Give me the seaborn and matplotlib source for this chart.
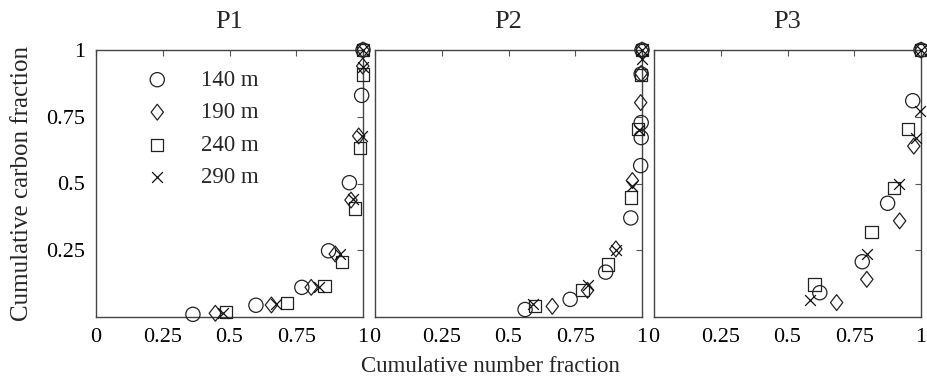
import numpy as np
import pandas as pd
import matplotlib
matplotlib.use("Agg")
import matplotlib.pyplot as plt
from matplotlib.path import Path
import seaborn as sns

panels = ["P1", "P2", "P3"]
depths = ["140 m", "190 m", "240 m", "290 m"]

# P1
p1_140_x = [0.363, 0.599, 0.771, 0.871, 0.949, 0.995, 1.0]
p1_140_y = [0.010, 0.044, 0.111, 0.248, 0.503, 0.830, 1.0]
p1_190_x = [0.447, 0.657, 0.806, 0.896, 0.955, 0.984, 0.999, 1.0]
p1_190_y = [0.014, 0.045, 0.111, 0.236, 0.438, 0.678, 0.940, 1.0]
p1_240_x = [0.486, 0.715, 0.856, 0.920, 0.969, 0.990, 0.999, 1.0]
p1_240_y = [0.020, 0.052, 0.117, 0.207, 0.406, 0.634, 0.908, 1.0]
p1_290_x = [0.475, 0.673, 0.836, 0.915, 0.961, 0.995, 1.0, 1.0]
p1_290_y = [0.016, 0.048, 0.114, 0.235, 0.441, 0.678, 0.935, 1.0]

# P2
p2_140_x = [0.562, 0.731, 0.864, 0.958, 0.995, 0.997, 0.997, 0.997, 1.0]
p2_140_y = [0.028, 0.066, 0.168, 0.371, 0.567, 0.672, 0.728, 0.910, 1.0]
p2_190_x = [0.664, 0.796, 0.902, 0.964, 0.995, 0.997, 1.0]
p2_190_y = [0.040, 0.100, 0.255, 0.511, 0.803, 0.912, 1.0]
p2_240_x = [0.598, 0.777, 0.872, 0.960, 0.986, 0.997, 1.0]
p2_240_y = [0.041, 0.100, 0.197, 0.448, 0.704, 0.905, 1.0]
p2_290_x = [0.591, 0.796, 0.904, 0.964, 0.990, 1.0, 1.0]
p2_290_y = [0.047, 0.118, 0.252, 0.490, 0.700, 0.965, 1.0]

# P3
p3_140_x = [0.621, 0.780, 0.875, 0.969, 1.0]
p3_140_y = [0.091, 0.207, 0.426, 0.810, 1.0]
p3_190_x = [0.684, 0.797, 0.920, 0.973, 1.0]
p3_190_y = [0.054, 0.141, 0.360, 0.640, 1.0]
p3_240_x = [0.601, 0.815, 0.899, 0.950, 1.0]
p3_240_y = [0.122, 0.319, 0.484, 0.703, 1.0]
p3_290_x = [0.584, 0.796, 0.919, 0.981, 0.996, 1.0]
p3_290_y = [0.062, 0.235, 0.497, 0.671, 0.771, 1.0]

x_ticks = [0, 0.25, 0.5, 0.75, 1]
x_tick_labels = ["0", "0.25", "0.5", "0.75", "1"]
y_ticks = [0.25, 0.5, 0.75, 1]
y_tick_labels = ["0.25", "0.5", "0.75", "1"]

data = {
    "P1": [(p1_140_x, p1_140_y), (p1_190_x, p1_190_y), (p1_240_x, p1_240_y), (p1_290_x, p1_290_y)],
    "P2": [(p2_140_x, p2_140_y), (p2_190_x, p2_190_y), (p2_240_x, p2_240_y), (p2_290_x, p2_290_y)],
    "P3": [(p3_140_x, p3_140_y), (p3_190_x, p3_190_y), (p3_240_x, p3_240_y), (p3_290_x, p3_290_y)],
}

sns.set_theme(style="white")
plt.rcParams["font.family"] = ["Liberation Serif", "DejaVu Serif"]
plt.rcParams["mathtext.fontset"] = "stix"

diamond = Path([(0, 1), (0.78, 0), (0, -1), (-0.78, 0), (0, 1)],
               [Path.MOVETO, Path.LINETO, Path.LINETO, Path.LINETO, Path.CLOSEPOLY])
markers = ["o", diamond, "s", "x"]
sizes = [105, 130, 78, 60]

fig = plt.figure(figsize=(9.27, 3.84), dpi=100)
lefts = [96 / 927, 375 / 927, 654 / 927]
W = 267 / 927
B = (384 - 317) / 384
H = 267 / 384
axes = [fig.add_axes([l, B, W, H]) for l in lefts]

for ax, p in zip(axes, panels):
    for (xs, ys), dep, m, s in zip(data[p], depths, markers, sizes):
        df = pd.DataFrame({"x": xs, "y": ys})
        if m == "x":
            sns.scatterplot(data=df, x="x", y="y", marker=m, s=s, color="#111111",
                            linewidth=0.9, ax=ax, label=dep, clip_on=False, zorder=3)
        else:
            sns.scatterplot(data=df, x="x", y="y", marker=m, s=s, facecolors="none",
                            edgecolor="#222222", linewidth=0.9, ax=ax, label=dep,
                            clip_on=False, zorder=3)
    ax.set_xlim(0, 1)
    ax.set_ylim(0, 1)
    ax.set_xlabel("")
    ax.set_ylabel("")
    ax.set_title(p, fontsize=19, pad=16)
    ax.set_xticks(x_ticks)
    ax.set_xticklabels(x_tick_labels)
    ax.set_yticks(y_ticks)
    if p == "P1":
        ax.set_yticklabels(y_tick_labels)
    else:
        ax.set_yticklabels([])
    ax.tick_params(direction="in", top=True, right=True, length=4, width=0.8,
                   labelsize=16, color="#555555", labelcolor="black", pad=8)
    for sp in ax.spines.values():
        sp.set_color("#444444")
        sp.set_linewidth(1.0)
    if p == "P1":
        ax.legend(loc="upper left", bbox_to_anchor=(0.075, 0.995), frameon=False,
                  fontsize=16.5, labelspacing=0.5, handletextpad=0.9, borderpad=0.3)
    else:
        lg = ax.get_legend()
        if lg is not None:
            lg.remove()

fig.text(490 / 927, 0.045, "Cumulative number fraction", ha="center", va="center", fontsize=16.5)
fig.text(0.024, B + H / 2, "Cumulative carbon fraction", ha="center", va="center",
         rotation=90, fontsize=18)

fig.savefig("out.png", dpi=100)
